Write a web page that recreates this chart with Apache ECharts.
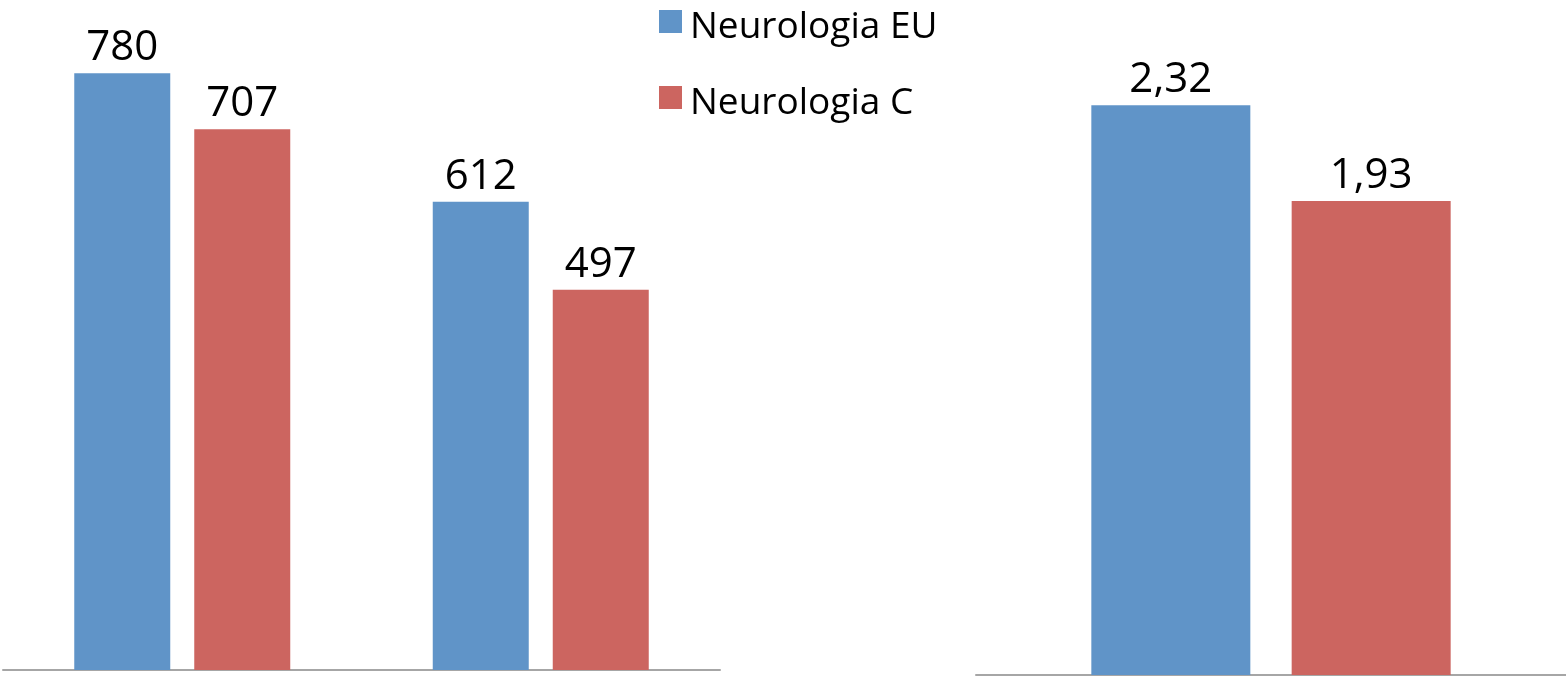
<!DOCTYPE html>
<html>
<head>
<meta charset="utf-8">
<script src="https://cdn.jsdelivr.net/npm/echarts@6/dist/echarts.min.js"></script>
<style>html,body{margin:0;padding:0;background:#fff}#c{width:1566px;height:679px}</style>
</head>
<body>
<div id="c"></div>
<script>
const seriesNames = ['Neurologia EU', 'Neurologia C'];
const leftCategories = ['Gruppo 1', 'Gruppo 2'];
const leftEU = [780, 612];
const leftC = [707, 497];
const rightCategories = ['Gruppo 3'];
const rightEU = [2.32];
const rightC = [1.93];

const blue = '#6094C8';
const red = '#CC6560';
const font = '"Open Sans", "Liberation Sans", sans-serif';

const chart = echarts.init(document.getElementById('c'), null, {renderer: 'canvas'});
const lbl = (fmt) => ({show: true, position: 'top', distance: 4, fontSize: 42, fontFamily: font, color: '#000', formatter: fmt});
const commaFmt = p => String(p.value).replace('.', ',');
chart.setOption({
  animation: false,
  legend: {
    orient: 'vertical', left: 654, top: 2,
    itemWidth: 23, itemHeight: 34, itemGap: 36,
    icon: 'path://M0,0H23V23H0Z M0,33.99H0.01V34H0Z',
    symbolKeepAspect: false,
    textStyle: {fontSize: 37, fontFamily: font, color: '#000', lineHeight: 40, padding: [0, 0, 0, 3]},
    data: seriesNames
  },
  grid: [
    {left: 3, right: 846, top: 58, bottom: 9},
    {left: 976, right: 0, top: 61, bottom: 4}
  ],
  xAxis: [
    {type: 'category', gridIndex: 0, data: leftCategories, axisLine: {lineStyle: {color: '#A6A6A6', width: 2}}, axisTick: {show: false}, axisLabel: {show: false}},
    {type: 'category', gridIndex: 1, data: rightCategories, axisLine: {lineStyle: {color: '#A6A6A6', width: 2}}, axisTick: {show: false}, axisLabel: {show: false}}
  ],
  yAxis: [
    {type: 'value', gridIndex: 0, min: 0, max: 800, show: false},
    {type: 'value', gridIndex: 1, min: 0, max: 2.5, show: false}
  ],
  series: [
    {name: seriesNames[0], type: 'bar', xAxisIndex: 0, yAxisIndex: 0, data: leftEU, barWidth: 96, barGap: '25%', itemStyle: {color: blue}, label: lbl()},
    {name: seriesNames[1], type: 'bar', xAxisIndex: 0, yAxisIndex: 0, data: leftC, barWidth: 96, barGap: '25%', itemStyle: {color: red}, label: lbl()},
    {name: seriesNames[0], type: 'bar', xAxisIndex: 1, yAxisIndex: 1, data: rightEU, barWidth: 159, barGap: '26%', itemStyle: {color: blue}, label: lbl(commaFmt)},
    {name: seriesNames[1], type: 'bar', xAxisIndex: 1, yAxisIndex: 1, data: rightC, barWidth: 159, barGap: '26%', itemStyle: {color: red}, label: lbl(commaFmt)}
  ]
});
</script>
</body>
</html>
